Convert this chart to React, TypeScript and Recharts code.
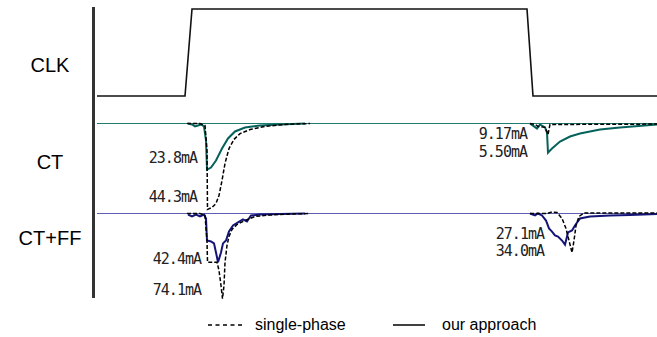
import { LineChart, Line, XAxis, YAxis } from "recharts";

// time in ns, current in mA (drop shown as negative)
type Pt = { t: number; v: number | null };

const clk: [number, number][] = [
  [0, 0], [8.8, 0], [9.5, 1], [43.0, 1], [43.6, 0], [56, 0],
];

const baseline: [number, number][] = [
  [0, 0], [56, 0],
];

const ctOurs: [number, number | null][] = [
  [9.1, 0], [9.5, -0.5], [9.8, -1.5], [10.1, -1], [10.4, -0.5], [10.7, -1.5],
  [10.9, -8.8], [11.0, -23.8], [11.4, -22.7], [11.9, -19.1], [12.5, -12.9], [13.1, -7.7],
  [13.8, -4.1], [14.8, -2.1], [16.3, -1.0], [18.3, -0.5], [20.8, 0], [30, null], [43.3, 0],
  [43.7, -1.5], [44.0, -2.6], [44.3, -0.5], [44.8, -2], [45.0, -4.6], [45.1, -15],
  [45.5, -12.9], [46.3, -9.3], [47.3, -6.7], [48.3, -5.2], [50.3, -3.1], [52.3, -2.1],
  [56, -0.5],
];

const ctSingle: [number, number | null][] = [
  [9.0, 0], [10.3, 0], [10.8, -1], [11.0, -13.9], [11.05, -44.3], [11.5, -43.3],
  [11.9, -41.2], [12.2, -37.1], [12.5, -29.4], [12.8, -20.6], [13.2, -12.9], [13.7, -8.2],
  [14.3, -5.2], [15.3, -3.1], [16.8, -1.5], [18.8, -0.5], [21.3, 0], [30, null],
  [43.3, 0], [43.8, -0.5], [44.1, -1.5], [44.8, -2], [45.1, -5.7], [45.3, -0.5], [56, -0.3],
];

const ffOurs: [number, number | null][] = [
  [9.1, -0.9], [9.5, -2.6], [9.9, -0.9], [10.3, -2.6], [10.7, -0.9], [10.9, -4.3],
  [11.0, -23.5], [11.4, -24.3], [11.7, -26], [11.9, -33.9], [12.1, -42.4], [12.4, -33.9],
  [12.6, -26], [12.9, -23.5], [13.2, -15.7], [13.6, -10.4], [14.1, -7.8], [14.6, -5.2],
  [15.0, -7], [15.4, -1.7], [16.3, -0.9], [18.3, -0.4], [20.8, 0], [30, null], [43.3, 0],
  [43.8, -1.7], [44.1, 0], [44.5, -1.7], [44.9, -6.1], [45.2, -13], [45.5, -15.7],
  [45.8, -19.1], [46.1, -20], [46.5, -23.5], [46.8, -27.1], [47.1, -16.5], [47.5, -14.8],
  [47.8, -10.4], [48.3, -4.3], [49.3, -2.6], [51.3, -1.7], [53.3, -1.3], [56, -0.4],
];

const ffSingle: [number, number | null][] = [
  [9.0, 0], [10.3, 0], [10.8, -1.7], [11.0, -23.5], [11.05, -42.4], [11.6, -42.4],
  [12.0, -42.4], [12.2, -49.6], [12.4, -62.6], [12.55, -74.1], [12.7, -62.6], [12.8, -42.6],
  [13.0, -27.8], [13.2, -20], [13.5, -13.9], [14.0, -9.6], [14.8, -6.1], [15.8, -2.6],
  [17.3, -1.3], [19.3, -0.4], [21.3, 0], [30, null],
  [43.3, 0], [45.0, 0], [45.5, 1.3], [46.0, 0.9], [46.5, -4.3], [46.9, -13], [47.2, -23.5],
  [47.5, -34.0], [47.7, -23.5], [47.9, -10.4], [48.2, -2.6], [48.7, 0.4], [56, 0.4],
];

const rowLabels = ["CLK", "CT", "CT+FF"];
const legendNames = ["single-phase", "our approach"];

const toPts = (arr: [number, number | null][]): Pt[] => arr.map(([t, v]) => ({ t, v }));

const W = 657;
const H = 337;
const DASH = "4 2";
const TEAL = "#04625a";
const NAVY = "#141478";

const peakLabels = [
  { text: "23.8mA", right: 197, y: 158 },
  { text: "44.3mA", right: 197, y: 197 },
  { text: "42.4mA", right: 201, y: 259 },
  { text: "74.1mA", right: 201, y: 290 },
  { text: "9.17mA", right: 527, y: 134 },
  { text: "5.50mA", right: 527, y: 152 },
  { text: "27.1mA", right: 544, y: 234 },
  { text: "34.0mA", right: 544, y: 251 },
];

const rowLabelY = [65, 162, 238];

export default function App() {
  return (
    <div
      style={{
        position: "absolute",
        left: 0,
        top: 0,
        width: W,
        height: H,
        background: "#fff",
        fontFamily: "Arial, 'Liberation Sans', sans-serif",
      }}
    >
      <LineChart width={W} height={H} margin={{ top: 0, right: 0, bottom: 0, left: 97 }}>
        <XAxis dataKey="t" type="number" domain={[0, 56]} hide allowDataOverflow />
        <YAxis yAxisId="clk" type="number" domain={[-2.77, 1.103]} hide allowDataOverflow />
        <YAxis yAxisId="ct" type="number" domain={[-110.05, 63.66]} hide allowDataOverflow />
        <YAxis yAxisId="ff" type="number" domain={[-107.39, 185.65]} hide allowDataOverflow />
        <Line
          yAxisId="ct"
          data={toPts(baseline)}
          dataKey="v"
          type="linear"
          stroke="#1f7a70"
          strokeWidth={1}
          dot={false}
          isAnimationActive={false}
        />
        <Line
          yAxisId="ff"
          data={toPts(baseline)}
          dataKey="v"
          type="linear"
          stroke="#5e5eb4"
          strokeWidth={1}
          dot={false}
          isAnimationActive={false}
        />
        <Line
          yAxisId="clk"
          data={toPts(clk)}
          dataKey="v"
          type="linear"
          stroke="#111"
          strokeWidth={1.6}
          dot={false}
          isAnimationActive={false}
        />
        <Line
          yAxisId="ct"
          data={toPts(ctOurs)}
          dataKey="v"
          type="linear"
          stroke={TEAL}
          strokeWidth={2}
          dot={false}
          isAnimationActive={false}
        />
        <Line
          yAxisId="ct"
          data={toPts(ctSingle)}
          dataKey="v"
          type="linear"
          stroke="#000"
          strokeWidth={1.5}
          strokeDasharray={DASH}
          dot={false}
          isAnimationActive={false}
        />
        <Line
          yAxisId="ff"
          data={toPts(ffOurs)}
          dataKey="v"
          type="linear"
          stroke={NAVY}
          strokeWidth={2}
          dot={false}
          isAnimationActive={false}
        />
        <Line
          yAxisId="ff"
          data={toPts(ffSingle)}
          dataKey="v"
          type="linear"
          stroke="#000"
          strokeWidth={1.5}
          strokeDasharray={DASH}
          dot={false}
          isAnimationActive={false}
        />
      </LineChart>

      {/* left axis bar */}
      <div style={{ position: "absolute", left: 92, top: 7, width: 3, height: 291, background: "#333" }} />

      {rowLabels.map((l, i) => (
        <div
          key={l}
          style={{
            position: "absolute",
            left: 0,
            width: 100,
            top: rowLabelY[i] - 12,
            lineHeight: "24px",
            textAlign: "center",
            fontSize: 20,
            color: "#000",
          }}
        >
          {l}
        </div>
      ))}

      {peakLabels.map((p) => (
        <div
          key={p.text}
          style={{
            position: "absolute",
            left: p.right - 80,
            width: 80,
            top: p.y - 9,
            lineHeight: "18px",
            textAlign: "right",
            fontFamily: "'DejaVu Sans Mono', monospace",
            fontSize: 15,
            letterSpacing: -1,
            color: "#222",
          }}
        >
          {p.text}
        </div>
      ))}

      {/* legend */}
      <svg style={{ position: "absolute", left: 0, top: 316 }} width={W} height={20}>
        <line x1={208} x2={245} y1={9} y2={9} stroke="#000" strokeWidth={1.5} strokeDasharray="4 3.5" />
        <line x1={393} x2={425} y1={9} y2={9} stroke="#000" strokeWidth={1.5} />
      </svg>
      <div style={{ position: "absolute", left: 255, top: 315, fontSize: 16, lineHeight: "20px" }}>
        {legendNames[0]}
      </div>
      <div style={{ position: "absolute", left: 442, top: 315, fontSize: 16, lineHeight: "20px" }}>
        {legendNames[1]}
      </div>
    </div>
  );
}
